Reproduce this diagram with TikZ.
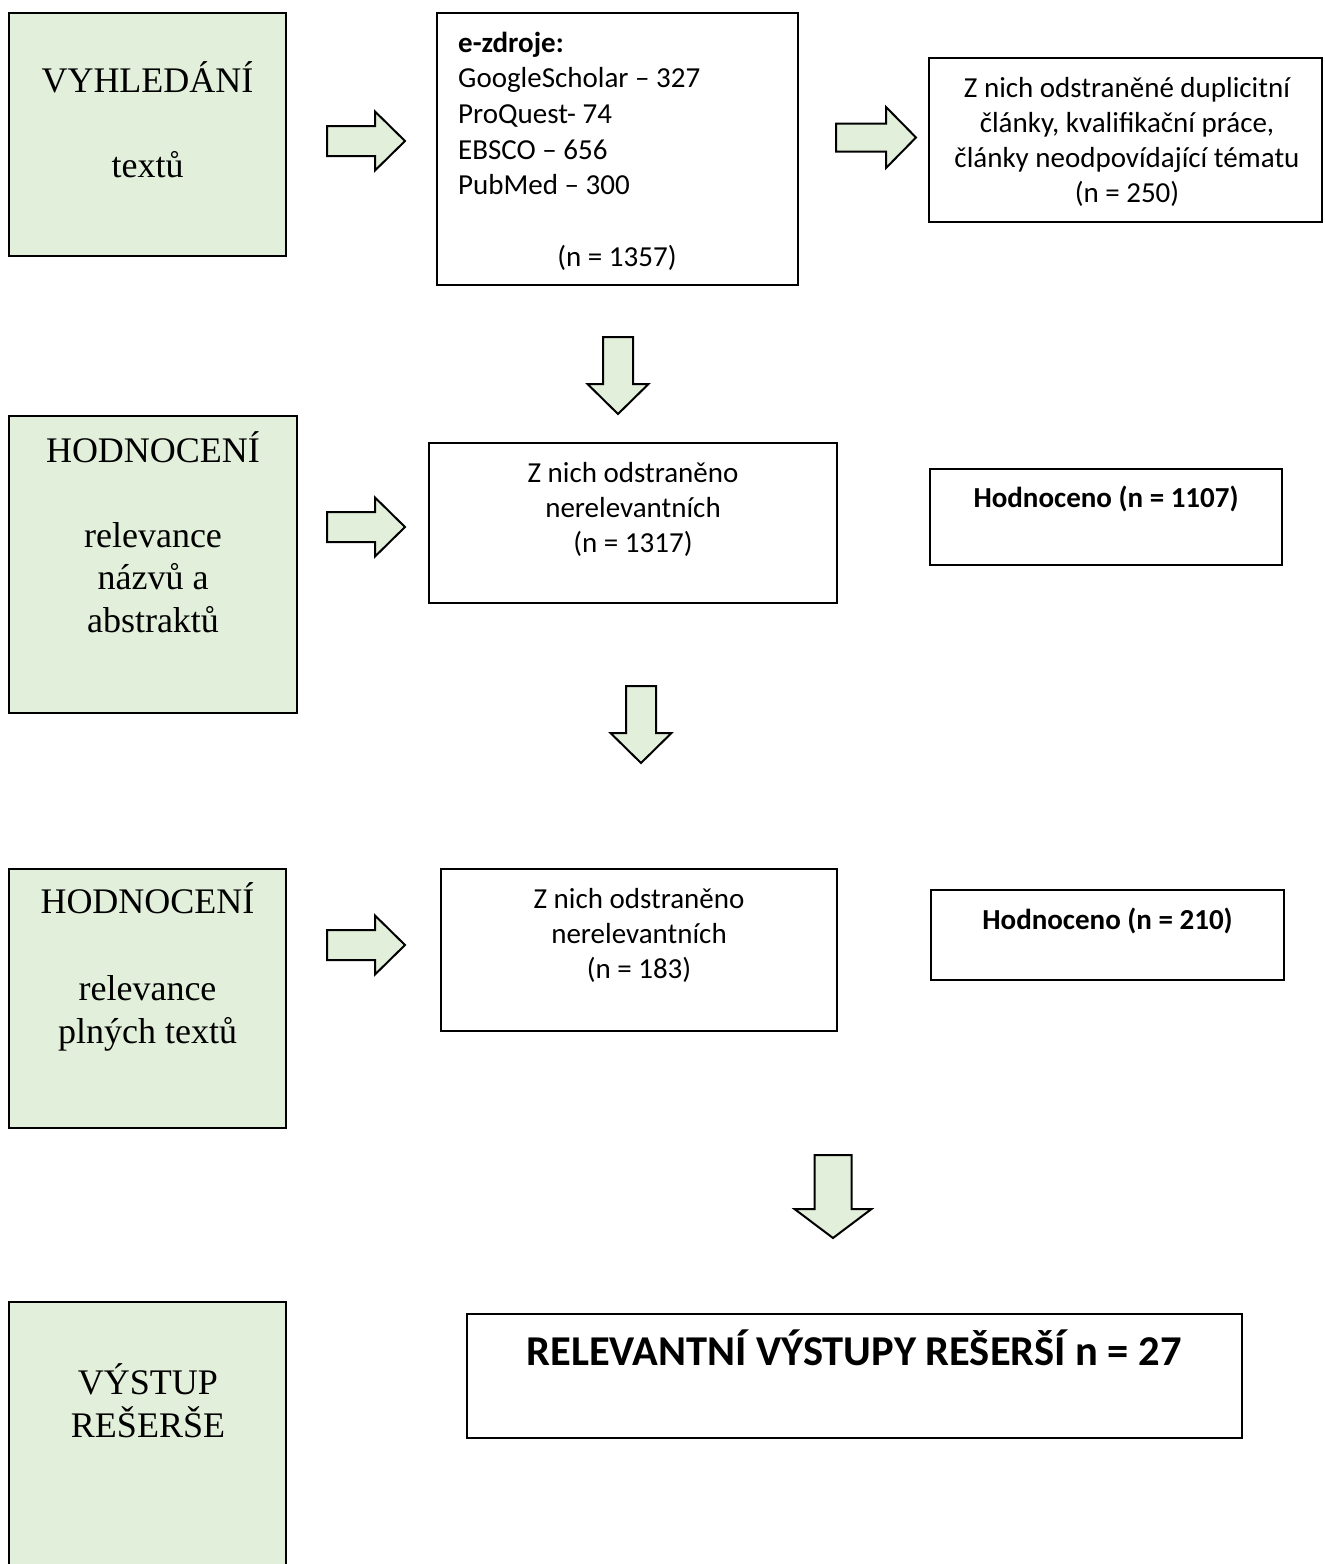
\documentclass[tikz,border=0pt]{standalone}
\usepackage{fontspec}
\setmainfont{Liberation Serif}
\newfontfamily\calfont{Carlito}
\definecolor{lgreen}{HTML}{E2EFDA}
\tikzset{
  gbox/.style={draw=black, line width=1.5pt, fill=lgreen, anchor=north west, inner sep=0pt, outer sep=0pt},
  wbox/.style={draw=black, line width=1.5pt, fill=white, anchor=north west, inner sep=0pt, outer sep=0pt},
  gtxt/.style={font=\fontsize{36}{42}\selectfont, anchor=base, inner sep=0pt},
  ctxt/.style={font=\calfont\fontsize{29}{36}\selectfont, anchor=base, inner sep=0pt},
  btxt/.style={font=\calfont\bfseries\fontsize{29}{36}\selectfont, anchor=base, inner sep=0pt},
  bigtxt/.style={font=\calfont\bfseries\fontsize{42.5}{50}\selectfont, anchor=base, inner sep=0pt},
  blockarrow/.style={draw=black, line width=2pt, fill=lgreen, line join=miter},
  rarrow/.pic={\path[blockarrow] (0,-15) -- (48,-15) -- (48,-29.5) -- (78,0) -- (48,29.5) -- (48,15) -- (0,15) -- cycle;},
  widerarrow/.pic={\path[blockarrow] (0,-14) -- (50,-14) -- (50,-30.5) -- (80,0) -- (50,30.5) -- (50,14) -- (0,14) -- cycle;},
  darrow/.pic={\path[blockarrow] (-15,0) -- (15,0) -- (15,47) -- (30.5,47) -- (0,77) -- (-30.5,47) -- (-15,47) -- cycle;},
  bigdarrow/.pic={\path[blockarrow] (-18.5,0) -- (18.5,0) -- (18.5,54) -- (38.5,54) -- (0,83) -- (-38.5,54) -- (-18.5,54) -- cycle;}
}
\begin{document}
\begin{tikzpicture}[x=1pt,y=-1pt]
\useasboundingbox[fill=white] (0,0) rectangle (1325,1564);

% boxes
\node[gbox, minimum width=277pt, minimum height=243pt] (A) at (9,13) {};
\node[wbox, minimum width=361pt, minimum height=272pt] (B) at (437,13) {};
\node[wbox, minimum width=393pt, minimum height=164pt] (C) at (929,58) {};
\node[gbox, minimum width=288pt, minimum height=297pt] (D) at (9,416) {};
\node[wbox, minimum width=408pt, minimum height=160pt] (E) at (429,443) {};
\node[wbox, minimum width=352pt, minimum height=96pt] (F) at (930,469) {};
\node[gbox, minimum width=277pt, minimum height=259pt] (G) at (9,869) {};
\node[wbox, minimum width=396pt, minimum height=162pt] (H) at (441,869) {};
\node[wbox, minimum width=353pt, minimum height=90pt] (I) at (931,890) {};
\node[gbox, minimum width=277pt, minimum height=268pt] (J) at (9,1302) {};
\node[wbox, minimum width=775pt, minimum height=124pt] (K) at (467,1314) {};

% block arrows
\pic (r1) at (327,141) {rarrow};
\pic (r2) at (836,137.5) {widerarrow};
\pic (r3) at (327,527) {rarrow};
\pic (r4) at (327,945) {rarrow};
\pic (d1) at (618,337) {darrow};
\pic (d2) at (641,686) {darrow};
\pic (d3) at (833,1155) {bigdarrow};

% green box texts
\node[gtxt] (a1) at (147.5,92) {VYHLEDÁNÍ};
\node[gtxt] (a2) at (147.5,177) {textů};
\node[gtxt] (dd1) at (153,462) {HODNOCENÍ};
\node[gtxt] (dd2) at (153,547) {relevance};
\node[gtxt] (dd3) at (153,589) {názvů a};
\node[gtxt] (dd4) at (153,632) {abstraktů};
\node[gtxt] (g1) at (147.5,913) {HODNOCENÍ};
\node[gtxt] (g2) at (147.5,1000) {relevance};
\node[gtxt] (g3) at (147.5,1043) {plných textů};
\node[gtxt] (j1) at (148,1394) {VÝSTUP};
\node[gtxt] (j2) at (148,1437) {REŠERŠE};

% box B
\node[btxt, anchor=base west] (b1) at (458,52) {e-zdroje:};
\node[ctxt, anchor=base west] (b2) at (458,87) {GoogleScholar – 327};
\node[ctxt, anchor=base west] (b3) at (458,123) {ProQuest- 74};
\node[ctxt, anchor=base west] (b4) at (458,159) {EBSCO – 656};
\node[ctxt, anchor=base west] (b5) at (458,194) {PubMed – 300};
\node[ctxt] (b6) at (617,266) {(n = 1357)};

% box C
\node[ctxt] (c1) at (1127,97) {Z nich odstraněné duplicitní};
\node[ctxt] (c2) at (1127,132) {články, kvalifikační práce,};
\node[ctxt] (c3) at (1127,167) {články neodpovídající tématu};
\node[ctxt] (c4) at (1127,202) {(n = 250)};

% box E
\node[ctxt] (e1) at (633,482) {Z nich odstraněno};
\node[ctxt] (e2) at (633,517) {nerelevantních};
\node[ctxt] (e3) at (633,552) {(n = 1317)};

% box F
\node[btxt] (f1) at (1106,507) {Hodnoceno (n = 1107)};

% box H
\node[ctxt] (h1) at (639,908) {Z nich odstraněno};
\node[ctxt] (h2) at (639,943) {nerelevantních};
\node[ctxt] (h3) at (639,978) {(n = 183)};

% box I
\node[btxt] (i1) at (1107.5,929) {Hodnoceno (n = 210)};

% box K
\node[bigtxt] (k1) at (854,1365) {RELEVANTNÍ VÝSTUPY REŠERŠÍ n = 27};
\end{tikzpicture}
\end{document}
